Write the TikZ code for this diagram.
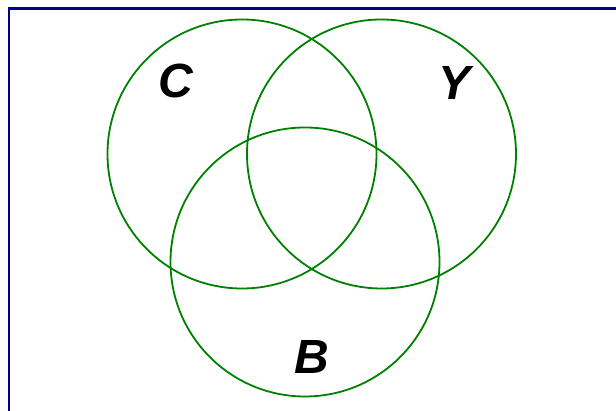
\documentclass[tikz,border=0pt]{standalone}
\usepackage{fontspec}
\setmainfont{Liberation Sans}
\begin{document}
\begin{tikzpicture}[x=1pt,y=1pt,
  setcircle/.style={draw={rgb,255:red,0;green,128;blue,0}, line width=1.8pt},
  setlabel/.style={font=\fontsize{48}{48}\selectfont\bfseries\itshape, inner sep=0pt}]
\useasboundingbox (0,0) rectangle (616,411);
\definecolor{frameblue}{RGB}{0,0,140}
\coordinate (fb) at (9,0);
\coordinate (fc) at (9,402.5);
\coordinate (fe) at (616,402.5);
\draw[frameblue, line width=2.6pt] (fb) -- (fc) -- (fe);
\node[setcircle, circle, minimum size=269pt, inner sep=0pt] (c) at (242,257) {};
\node[setcircle, circle, minimum size=269pt, inner sep=0pt] (y) at (381.5,257) {};
\node[setcircle, circle, minimum size=269pt, inner sep=0pt] (b) at (305,149) {};
\node[setlabel] (lc) at (176,330) {C};
\node[setlabel] (ly) at (455,328) {Y};
\node[setlabel] (lb) at (312,54) {B};
\end{tikzpicture}
\end{document}
